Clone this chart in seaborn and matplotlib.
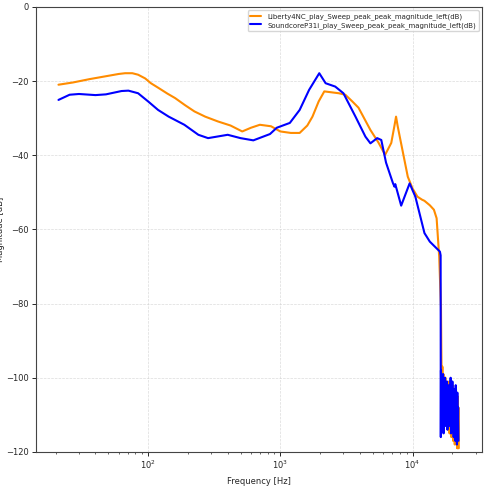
import numpy as np
import pandas as pd
import matplotlib
matplotlib.use("Agg")
import matplotlib.pyplot as plt
import seaborn as sns

label_a = "Liberty4NC_play_Sweep_peak_peak_magnitude_left(dB)"
label_b = "SoundcoreP31i_play_Sweep_peak_peak_magnitude_left(dB)"

freq_a = [21, 27, 36, 50, 60, 67, 76, 84, 95, 105, 119, 140, 160, 190, 224, 270, 337, 420,
          515, 600, 700, 850, 1000, 1200, 1400, 1600, 1750, 1950, 2150, 2500, 2770,
          3100, 3500, 3900, 4800, 5500, 6200, 6900, 7300, 7500, 7700, 8000, 9200,
          10000, 10900, 11800, 12300, 13500, 14500, 15200, 15900, 16400,
          16500, 16650, 16800, 16950, 17100, 17250, 17400, 17550, 17700, 17850,
          18000, 18150, 18300, 18450, 18600, 18750, 18900, 19050, 19200, 19350,
          19500, 19650, 19800, 19950, 20100, 20250, 20400, 20550, 20700, 20850,
          21000, 21150, 21300, 21450, 21600, 21750, 21900, 22050, 22200, 22350]
mag_a = [-21.0, -20.4, -19.5, -18.6, -18.1, -17.9, -17.9, -18.3, -19.3, -20.6, -21.8,
         -23.4, -24.6, -26.5, -28.2, -29.6, -30.9, -32.0, -33.6, -32.6, -31.8, -32.2,
         -33.6, -34.0, -34.0, -32.0, -29.6, -25.5, -22.8, -23.1, -23.3, -23.7, -25.5,
         -27.2, -33.2, -36.5, -39.9, -36.7, -32.0, -29.6, -32.0, -35.0, -45.8, -49.0,
         -51.2, -52.0, -52.3, -53.5, -54.7, -57.0, -67.4, -81.0,
         -92, -104, -97, -108, -99, -110, -101, -111, -100, -112, -103, -113, -102,
         -114, -104, -113, -101, -115, -105, -114, -103, -116, -104, -115, -102, -117,
         -106, -116, -104, -118, -105, -117, -103, -118, -107, -119, -105, -119, -108,
         -119]

freq_b = [21, 25.5, 30, 40, 48, 63, 71, 84, 100, 119, 143, 188, 240, 284, 400, 500,
          625, 835, 940, 1180, 1400, 1650, 1970, 2200, 2600, 3000, 3700, 4400, 4800,
          5400, 5800, 6300, 7100, 7300, 7400, 8200, 9500, 10500, 12300, 13500, 16100,
          16300, 16350,
          16400, 16550, 16700, 16850, 17000, 17150, 17300, 17450, 17600, 17750,
          17900, 18050, 18200, 18350, 18500, 18650, 18800, 18950, 19100, 19250,
          19400, 19550, 19700, 19850, 20000, 20150, 20300, 20450, 20600, 20750,
          20900, 21050, 21200, 21350, 21500, 21650, 21800, 21950, 22100, 22250]
mag_b = [-25.1, -23.7, -23.5, -23.8, -23.6, -22.7, -22.6, -23.3, -25.5, -27.8, -29.6,
         -31.8, -34.5, -35.4, -34.5, -35.4, -36.0, -34.3, -32.6, -31.3, -27.8, -22.4,
         -17.9, -20.6, -21.5, -23.3, -29.6, -35.0, -36.8, -35.4, -35.9, -42.0, -47.5,
         -48.5, -47.8, -53.6, -47.6, -51.2, -61.0, -63.3, -66.0, -67.0, -116,
         -98, -114, -101, -112, -99, -115, -104, -111, -100, -113, -103, -112, -101,
         -114, -105, -110, -102, -113, -104, -111, -100, -115, -106, -112, -101, -114,
         -104, -116, -103, -112, -105, -117, -102, -115, -106, -118, -104, -116, -108,
         -117]

df = pd.concat([
    pd.DataFrame({"Frequency": freq_a, "Magnitude": mag_a, "series": label_a}),
    pd.DataFrame({"Frequency": freq_b, "Magnitude": mag_b, "series": label_b}),
], ignore_index=True)

sns.set_theme(style="ticks")
plt.rcParams["font.family"] = ["DejaVu Sans"]

fig = plt.figure(figsize=(5.0, 4.87), dpi=100)
ax = fig.add_axes([0.072, 0.072, 0.892, 0.914])

sns.lineplot(data=df, x="Frequency", y="Magnitude", hue="series",
             palette={label_a: "darkorange", label_b: "blue"},
             estimator=None, sort=False, linewidth=1.5, ax=ax)

ax.set_xscale("log")
ax.set_xlim(14.2, 33500)
ax.set_ylim(-120, 0)
ax.set_yticks([0, -20, -40, -60, -80, -100, -120])
ax.grid(True, which="major", linestyle="--", linewidth=0.5, color="#cccccc", alpha=0.7)
ax.set_xlabel("Frequency [Hz]", fontsize=6)
ax.set_ylabel("Magnitude [dB]", fontsize=6, labelpad=1)
ax.tick_params(axis="both", which="major", labelsize=6, length=3, width=0.7, pad=2)
ax.tick_params(axis="both", which="minor", length=1.5, width=0.5)
for s in ax.spines.values():
    s.set_linewidth(0.8)
    s.set_color("#444444")

handles, labels = ax.get_legend_handles_labels()
ax.legend(handles, labels, loc="upper right", fontsize=5, frameon=True,
          handlelength=1.6, borderpad=0.4, labelspacing=0.3, fancybox=True,
          framealpha=0.8)

fig.savefig("out.png", dpi=100)
